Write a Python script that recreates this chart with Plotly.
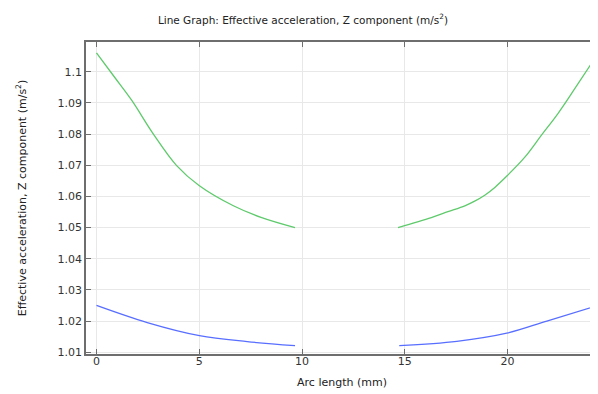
import plotly.graph_objects as go

# Arc length (mm) and values for the two segments of each curve
green_x_left = [0, 0.9, 1.71, 2.76, 3.90, 4.99, 6.66, 8.04, 9.66]
green_y_left = [1.1061, 1.0981, 1.0909, 1.0801, 1.0699, 1.0635, 1.0570, 1.0532, 1.0500]
green_x_right = [14.67, 16.29, 17.10, 17.92, 18.40, 18.89, 19.38, 19.99, 20.84, 21.64, 22.46, 23.27, 24.40]
green_y_right = [1.0500, 1.0532, 1.0551, 1.0570, 1.0585, 1.0604, 1.0629, 1.0667, 1.0726, 1.0796, 1.0867, 1.0946, 1.1059]

blue_x_left = [0, 2.47, 5.01, 7.33, 9.66]
blue_y_left = [1.0250, 1.0195, 1.0153, 1.0134, 1.0121]
blue_x_right = [14.73, 17.53, 19.96, 21.91, 24.40]
blue_y_right = [1.0121, 1.0135, 1.0161, 1.0200, 1.0250]

x_ticks = [0, 5, 10, 15, 20]
y_ticks = [1.01, 1.02, 1.03, 1.04, 1.05, 1.06, 1.07, 1.08, 1.09, 1.1]
y_tick_text = ["1.01", "1.02", "1.03", "1.04", "1.05", "1.06", "1.07", "1.08", "1.09", "1.1"]

font = "DejaVu Sans"
green = "rgb(95,202,108)"
blue = "rgb(88,110,255)"

fig = go.Figure()
fig.add_trace(go.Scatter(x=green_x_left + [None] + green_x_right,
                         y=green_y_left + [None] + green_y_right,
                         mode="lines", line=dict(color=green, width=1.3, shape="spline", smoothing=1.0),
                         connectgaps=False, showlegend=False))
fig.add_trace(go.Scatter(x=blue_x_left + [None] + blue_x_right,
                         y=blue_y_left + [None] + blue_y_right,
                         mode="lines", line=dict(color=blue, width=1.3, shape="spline", smoothing=1.0),
                         connectgaps=False, showlegend=False))

axis_common = dict(showline=True, linecolor="#6e6e6e", linewidth=1.5,
                   ticks="inside", ticklen=5, tickcolor="#6e6e6e", tickwidth=1.2,
                   showgrid=True, gridcolor="#e8e8e8", gridwidth=1, zeroline=False,
                   automargin=False,
                   tickfont=dict(family=font, size=11, color="#333333"))

fig.update_xaxes(range=[-0.51, 24.40], tickvals=x_ticks, mirror="ticks", ticklabelstandoff=-4,
                 title=dict(text="Arc length (mm)", font=dict(family=font, size=11, color="#222222"), standoff=11),
                 **axis_common)
fig.update_yaxes(range=[1.00942, 1.10958], tickvals=y_ticks, ticktext=y_tick_text, mirror=False,
                 title=dict(text="Effective acceleration, Z component (m/s<sup>2</sup>)",
                            font=dict(family=font, size=11, color="#222222"), standoff=29),
                 **axis_common)

fig.update_layout(
    width=590, height=386,
    margin=dict(l=78, r=0, t=34, b=39.5),
    paper_bgcolor="white", plot_bgcolor="white",
    title=dict(text="Line Graph: Effective acceleration, Z component (m/s<sup>2</sup>)",
               x=0.5, xanchor="center", y=1 - 12 / 386, yanchor="middle",
               font=dict(family=font, size=10.5, color="#222222")),
)

fig.write_html("out.html")
